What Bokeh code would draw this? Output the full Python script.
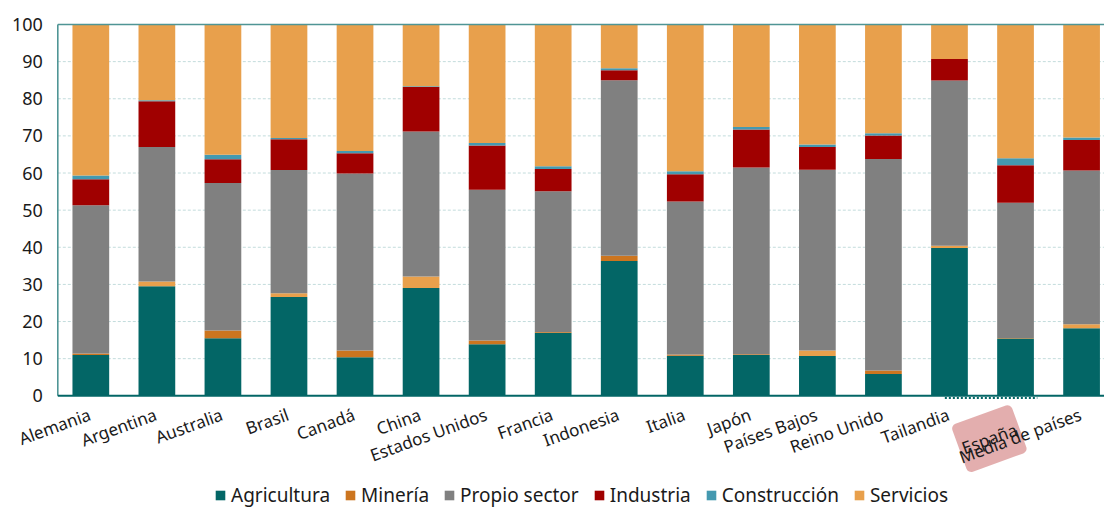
import numpy as np
from bokeh.plotting import figure
from bokeh.models import (Range1d, Label, Legend, LegendItem, ColumnDataSource)
from bokeh.embed import file_html
from bokeh.resources import INLINE

# ---------------- data ----------------
countries = ["Alemania", "Argentina", "Australia", "Brasil", "Canadá", "China",
             "Estados Unidos", "Francia", "Indonesia", "Italia", "Japón",
             "Países Bajos", "Reino Unido", "Tailandia", "España", "Media de países"]
agricultura = [11.0, 29.5, 15.5, 26.6, 10.4, 29.0, 13.9, 17.0, 36.3, 10.8, 11.0, 10.7, 5.9, 39.8, 15.4, 18.2]
mineria = [0.4, 1.3, 2.1, 1.0, 1.8, 3.1, 1.0, 0.2, 1.4, 0.3, 0.2, 1.5, 0.9, 0.6, 0.2, 1.1]
propio_sector = [39.9, 36.2, 39.7, 33.2, 47.7, 39.1, 40.6, 37.9, 47.3, 41.2, 50.3, 48.7, 57.0, 44.5, 36.4, 41.4]
industria = [7.0, 12.3, 6.4, 8.3, 5.4, 12.0, 11.9, 6.0, 2.7, 7.4, 10.2, 6.1, 6.3, 5.8, 10.1, 8.2]
construccion = [1.0, 0.3, 1.2, 0.3, 0.6, 0.2, 0.7, 0.7, 0.5, 0.8, 0.7, 0.7, 0.6, 0.0, 1.9, 0.7]
servicios = [40.7, 20.4, 35.1, 30.6, 34.1, 16.6, 31.9, 38.2, 11.8, 39.5, 27.6, 32.3, 29.3, 9.3, 36.0, 30.4]
series_names = ["Agricultura", "Minería", "Propio sector", "Industria", "Construcción", "Servicios"]
y_ticks = [0, 10, 20, 30, 40, 50, 60, 70, 80, 90, 100]

# ---------------- styles ----------------
C_AGR, C_MIN, C_PRO, C_IND, C_CON, C_SER = "#036666", "#cc751f", "#808080", "#a00000", "#4499b0", "#e8a04c"
min_light = {"Argentina", "Brasil", "China", "Países Bajos", "Tailandia", "Media de países"}
mineria_colors = [C_SER if c in min_light else C_MIN for c in countries]
FONT = "Noto Sans"
TXT = "#1a1a1a"
W, H = 1104, 509
PX_PER_UNIT = 3.713          # vertical scale (px per percentage point)
PX_PER_CAT = 66.05           # horizontal scale (px per category)
Y_MIN = -(H - 395.3) / PX_PER_UNIT
Y_MAX = 100 + 24.0 / PX_PER_UNIT
X_MIN = -0.5 - 57.3 / PX_PER_CAT
X_MAX = X_MIN + W / PX_PER_CAT

series = [agricultura, mineria, propio_sector, industria, construccion, servicios]
n = len(countries)
colors = [[C_AGR] * n, mineria_colors, [C_PRO] * n, [C_IND] * n, [C_CON] * n, [C_SER] * n]

x = np.arange(n)
p = figure(width=W, height=H, output_backend="svg", toolbar_location=None,
           x_range=Range1d(X_MIN, X_MAX), y_range=Range1d(Y_MIN, Y_MAX),
           min_border=0)
p.background_fill_color = "white"
p.border_fill_color = "white"
p.outline_line_color = None
p.xaxis.visible = False
p.yaxis.visible = False
p.grid.visible = False

# dashed horizontal gridlines
grid_y = y_ticks[1:-1]
p.segment(x0=[-0.5] * len(grid_y), y0=grid_y, x1=[X_MAX] * len(grid_y), y1=grid_y,
          line_color="#c3dcdc", line_width=1, line_dash="3 2")

bottom = np.zeros(n)
renderers = []
for vals, cols in zip(series, colors):
    vals = np.array(vals, dtype=float)
    src = ColumnDataSource(dict(x=x, bottom=bottom.copy(), top=bottom + vals, color=cols))
    r = p.vbar(x="x", bottom="bottom", top="top", width=0.556, color="color",
               line_color=None, source=src)
    renderers.append(r)
    bottom = bottom + vals

# frame lines
p.segment(x0=[-0.5, -0.5], y0=[100, 0], x1=[X_MAX, -0.5], y1=[100, 100],
          line_color="#4f9595", line_width=1.6)
p.segment(x0=[-0.5], y0=[0], x1=[X_MAX], y1=[0], line_color="#036666", line_width=2)

# y tick labels
for t in y_ticks:
    p.add_layout(Label(x=-0.5, y=t, x_offset=-15, text=str(t), text_align="right",
                       text_baseline="middle", text_font=FONT, text_font_size="18px",
                       text_color=TXT))

# category labels (rotated, right end at tick)
for i, name in enumerate(countries):
    kw = {}
    yo = -7
    if name == "España":
        kw = dict(background_fill_color="#dc9a9a", background_fill_alpha=0.8,
                  padding=(3, 14), border_radius=5)
        yo = -8
    p.add_layout(Label(x=i, y=yo / PX_PER_UNIT, x_offset=-5, text=name, angle=20,
                       angle_units="deg", text_align="right", text_baseline="top",
                       text_font=FONT, text_font_size="17px", text_color=TXT, **kw))

# dotted marker under España
esp = countries.index("España")
p.segment(x0=[esp - 1.07], y0=[-0.6], x1=[esp + 0.33], y1=[-0.6],
          line_color="#036666", line_width=2, line_dash="2 2", level="overlay")

legend = Legend(items=[LegendItem(label=nm, renderers=[r]) for nm, r in zip(series_names, renderers)],
                orientation="horizontal", location=(214, 1))
legend.label_text_font = FONT
legend.label_text_font_size = "19px"
legend.label_text_color = TXT
legend.glyph_width = 12
legend.glyph_height = 12
legend.label_standoff = 5
legend.spacing = 14
legend.padding = 0
legend.margin = 0
legend.border_line_color = None
legend.background_fill_alpha = 0
legend.label_height = 20
p.add_layout(legend, "center")

open("out.html", "w").write(file_html(p, INLINE))
